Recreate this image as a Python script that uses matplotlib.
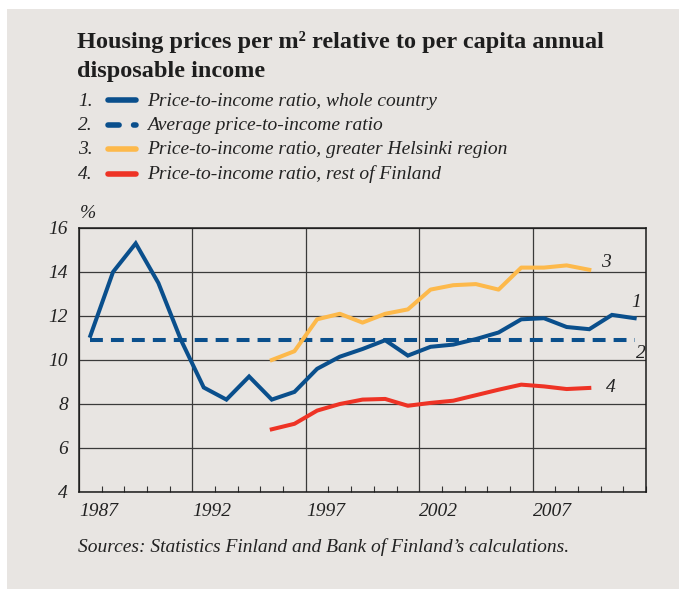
import matplotlib
matplotlib.use("Agg")
import matplotlib.pyplot as plt
from matplotlib.lines import Line2D
from matplotlib.patches import Rectangle
import numpy as np

years_all = list(range(1987, 2012))
whole_country = [11.1, 14.0, 15.3, 13.5, 10.9, 8.75, 8.2, 9.25, 8.2, 8.55, 9.6, 10.15,
                 10.5, 10.9, 10.2, 10.6, 10.7, 10.95, 11.25, 11.85, 11.9, 11.5, 11.4, 12.05, 11.9]
average_ratio = 10.93
years_reg = list(range(1995, 2010))
helsinki = [10.0, 10.4, 11.85, 12.1, 11.7, 12.1, 12.3, 13.2, 13.4, 13.45, 13.2, 14.2, 14.2, 14.3, 14.1]
rest_finland = [6.85, 7.1, 7.7, 8.0, 8.2, 8.23, 7.92, 8.05, 8.15, 8.4, 8.65, 8.88, 8.8, 8.68, 8.73]

legend_labels = ["Price-to-income ratio, whole country",
                 "Average price-to-income ratio",
                 "Price-to-income ratio, greater Helsinki region",
                 "Price-to-income ratio, rest of Finland"]
title_lines = ["Housing prices per m\u00b2 relative to per capita annual", "disposable income"]
source_text = "Sources: Statistics Finland and Bank of Finland\u2019s calculations."
xticks = [1987, 1992, 1997, 2002, 2007]
yticks = [4, 6, 8, 10, 12, 14, 16]

BLUE = "#0A4F8C"
YELLOW = "#FDB94B"
RED = "#EE3325"
BG = "#E8E5E2"
SERIF = ["Liberation Serif", "DejaVu Serif"]

W, H = 679, 589
fig = plt.figure(figsize=(W / 100, H / 100), dpi=100)
fig.patch.set_facecolor("white")
fig.patches.append(Rectangle((7 / W, 0), 1 - 7 / W, 1 - 9 / H, transform=fig.transFigure,
                             facecolor=BG, edgecolor="none", zorder=-5))

ax = fig.add_axes([79 / W, 1 - 492 / H, (646 - 79) / W, (492 - 228) / H])
ax.set_facecolor(BG)

x_all = np.array(years_all) + 0.5
x_reg = np.array(years_reg) + 0.5
dash = (3.2, 2.0)
lw = 2.9
ax.plot(x_all, whole_country, color=BLUE, lw=lw, solid_joinstyle="miter", zorder=4)
ax.plot([x_all[0], x_all[-1]], [average_ratio, average_ratio], color=BLUE, lw=lw,
        dashes=dash, dash_capstyle="butt", zorder=3)
ax.plot(x_reg, helsinki, color=YELLOW, lw=lw, zorder=4)
ax.plot(x_reg, rest_finland, color=RED, lw=lw, zorder=4)

ax.set_xlim(1987, 2012)
ax.set_ylim(4, 16)
ax.set_xticks(xticks)
ax.set_xticks(range(1987, 2013), minor=True)
ax.set_yticks(yticks)
ax.set_axisbelow(True)
ax.grid(True, which="major", color="#3A3A3A", lw=0.9)
ax.tick_params(axis="x", which="major", length=0, pad=8)
ax.tick_params(axis="x", which="minor", direction="in", length=4, width=0.8, color="#333333")
ax.tick_params(axis="y", which="major", length=0, pad=8)
for sp in ax.spines.values():
    sp.set_color("#1A1A1A")
    sp.set_linewidth(1.1)

for lab in ax.get_xticklabels() + ax.get_yticklabels():
    lab.set_fontfamily(SERIF)
    lab.set_fontstyle("italic")
    lab.set_fontsize(14)
    lab.set_color("#222222")
for lab in ax.get_xticklabels():
    lab.set_horizontalalignment("left")

tk = dict(family=SERIF, style="italic", fontsize=14, color="#222222")
ax.text(2010.0, 14.45, "3", ha="left", va="center", **tk)
ax.text(2011.35, 12.6, "1", ha="left", va="center", **tk)
ax.text(2011.55, 10.3, "2", ha="left", va="center", **tk)
ax.text(2010.25, 8.73, "4", ha="left", va="center", **tk)
fig.text(88 / W, 1 - 213 / H, "%", ha="center", va="center", **tk)

# Title
for i, t in enumerate(title_lines):
    fig.text(77 / W, 1 - (42 + 30 * i) / H, t, ha="left", va="center", family=SERIF,
             fontweight="bold", fontsize=17.5, color="#1E1E1E")

# Legend
styles = [dict(color=BLUE), dict(color=BLUE, dashes=(2.0, 2.6), dash_capstyle="round"),
          dict(color=YELLOW), dict(color=RED)]
for i, (lab, st) in enumerate(zip(legend_labels, styles)):
    yy = 1 - (101 + 24.5 * i) / H
    fig.text(78 / W, yy, f"{i + 1}.", ha="left", va="center", **tk)
    ln = Line2D([108 / W, 136 / W], [yy + 1 / H, yy + 1 / H], transform=fig.transFigure,
                lw=4.0, solid_capstyle="round", **st)
    fig.lines.append(ln)
    fig.text(147 / W, yy, lab, ha="left", va="center", **tk)

fig.text(78 / W, 1 - 547 / H, source_text, ha="left", va="center", **tk)

fig.savefig("out.png", dpi=100, facecolor="white")
